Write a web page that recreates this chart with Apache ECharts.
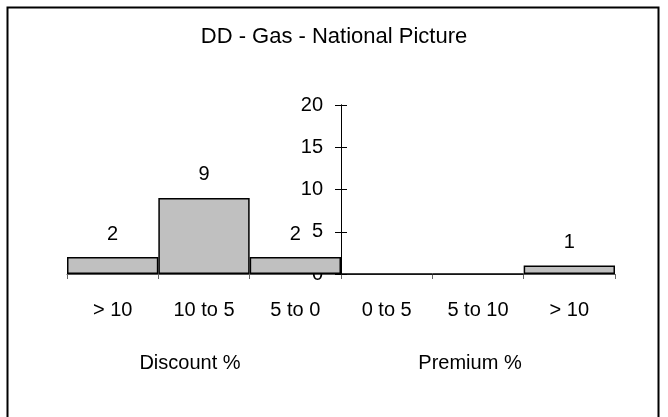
<!DOCTYPE html>
<html><head><meta charset="utf-8">
<script src="https://cdn.jsdelivr.net/npm/echarts@6/dist/echarts.min.js"></script>
<style>html,body{margin:0;padding:0;background:#fff}#c{width:668px;height:417px}</style>
</head><body><div id="c"></div>
<script>
const categories = ['> 10', '10 to 5', '5 to 0', '0 to 5', '5 to 10', '> 10'];
const counts = [2, 9, 2, 0, 0, 1];
const yTicks = [0, 5, 10, 15, 20];
const groupLabels = ['Discount %', 'Premium %'];
const titleText = 'DD - Gas - National Picture';

const FONT = 'Liberation Sans';
const chart = echarts.init(document.getElementById('c'), null, {renderer: 'canvas'});
const gridLeft = 67, gridRight = 53, gridTop = 105, gridBottom = 143;
const plotW = 668 - gridLeft - gridRight;
const axisOffset = -(plotW / 2);
const yBase = {
  type: 'value', min: yTicks[0], max: yTicks[yTicks.length - 1], interval: 5,
  position: 'left', offset: axisOffset, splitLine: {show: false},
  axisLine: {show: true, lineStyle: {color: '#000', width: 1}}
};
chart.setOption({
  animation: false,
  title: {text: titleText, left: 'center', top: 21,
    textStyle: {fontFamily: FONT, fontSize: 22, fontWeight: 'normal', color: '#000'}},
  grid: {left: gridLeft, right: gridRight, top: gridTop, bottom: gridBottom},
  xAxis: {
    type: 'category', data: categories,
    axisLine: {lineStyle: {color: '#555', width: 1}},
    axisTick: {show: true, length: 5, lineStyle: {color: '#666'}},
    axisLabel: {margin: 26, fontFamily: FONT, fontSize: 20, color: '#000'}
  },
  yAxis: [
    Object.assign({}, yBase, {
      axisTick: {show: true, length: 6, lineStyle: {color: '#000'}},
      axisLabel: {margin: 18, fontFamily: FONT, fontSize: 20, color: '#000'}
    }),
    Object.assign({}, yBase, {
      axisTick: {show: true, inside: true, length: 6, lineStyle: {color: '#000'}},
      axisLabel: {show: false}
    })
  ],
  series: [{
    type: 'bar', data: counts, barCategoryGap: 0,
    itemStyle: {color: '#c0c0c0', borderColor: '#000', borderWidth: 1.5},
    label: {show: true, position: 'top', distance: 13,
      fontFamily: FONT, fontSize: 20, color: '#000',
      formatter: p => p.value > 0 ? String(p.value) : ''}
  }],
  graphic: [
    {type: 'rect', shape: {x: 7.5, y: 7.5, width: 651, height: 420},
     style: {fill: 'none', stroke: '#000', lineWidth: 2}, silent: true},
    {type: 'text', x: 190, y: 363, style: {text: groupLabels[0], fontFamily: FONT, fontSize: 20,
      fill: '#000', textAlign: 'center', textVerticalAlign: 'middle'}},
    {type: 'text', x: 470, y: 363, style: {text: groupLabels[1], fontFamily: FONT, fontSize: 20,
      fill: '#000', textAlign: 'center', textVerticalAlign: 'middle'}}
  ]
});
</script></body></html>
